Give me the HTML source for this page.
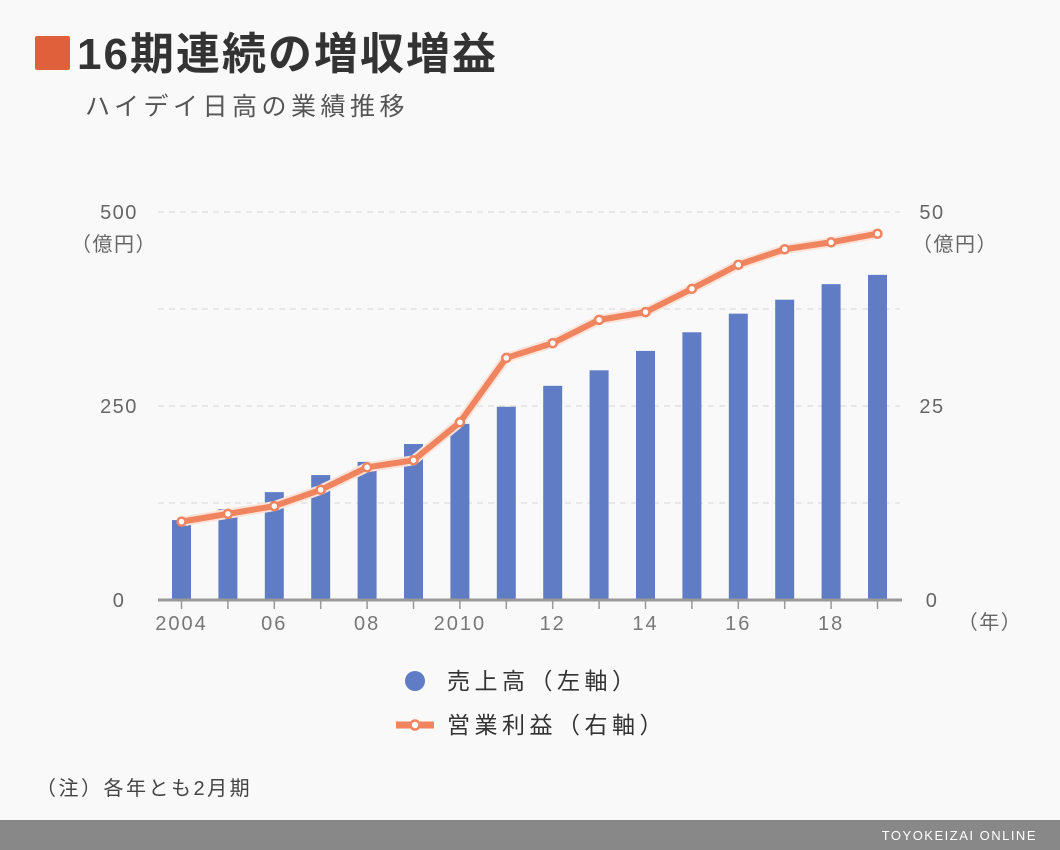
<!DOCTYPE html>
<html><head><meta charset="utf-8">
<style>
body{margin:0;width:1060px;height:850px;background:#f9f9f9;overflow:hidden;font-family:"Liberation Sans","Noto Sans CJK JP",sans-serif;}
</style></head>
<body>
<svg id="c" width="1060" height="850" xmlns="http://www.w3.org/2000/svg" style="position:absolute;left:0;top:0;font-family:'Liberation Sans','Noto Sans CJK JP',sans-serif">
<rect x="35" y="36" width="35" height="34" rx="2" fill="#e0603c"/>
<text x="77" y="69" font-size="44" font-weight="bold" letter-spacing="2" fill="#333">16期連続の増収増益</text>
<text x="85" y="115" font-size="25" letter-spacing="4.5" fill="#555">ハイデイ日高の業績推移</text>
<g id="grid"></g>
<g id="bars"></g>
<g id="line"></g>
<g id="axes"></g>
<text x="114" y="251" font-size="20" letter-spacing="1.5" fill="#666" text-anchor="middle">（億円）</text>
<text x="955" y="251" font-size="20" letter-spacing="1.5" fill="#666" text-anchor="middle">（億円）</text>
<text x="990" y="629" font-size="20" letter-spacing="1.5" fill="#666" text-anchor="middle">（年）</text>
<g>
<circle cx="415" cy="681" r="10" fill="#5f7cc4"/>
<text x="447" y="689" font-size="23" letter-spacing="4.5" fill="#333">売上高（左軸）</text>
</g>
<g>
<line x1="396" y1="725" x2="434" y2="725" stroke="#f0845f" stroke-width="7"/>
<circle cx="415" cy="725" r="4.5" fill="#fff" stroke="#f0845f" stroke-width="2.5"/>
<text x="447" y="733" font-size="23" letter-spacing="4.5" fill="#333">営業利益（右軸）</text>
</g>
<text x="36" y="795" font-size="20" letter-spacing="2.5" fill="#444">（注）各年とも2月期</text>
<rect x="0" y="820" width="1060" height="30" fill="#888"/>
<text x="1037" y="840" font-size="13" fill="#fff" text-anchor="end" letter-spacing="1.5">TOYOKEIZAI ONLINE</text>
</svg>
<script>
const years=[2004,2005,2006,2007,2008,2009,2010,2011,2012,2013,2014,2015,2016,2017,2018,2019];
const sales=[103,117,139,161,178,201,227,249,276,296,321,345,369,387,407,419];
const profit=[10.1,11.1,12.1,14.2,17.1,18.0,22.9,31.2,33.1,36.1,37.1,40.1,43.2,45.2,46.1,47.2];
const leftTicks=[0,250,500];
const rightTicks=[0,25,50];
const xLabels={2004:"2004",2006:"06",2008:"08",2010:"2010",2012:"12",2014:"14",2016:"16",2018:"18"};
const NS="http://www.w3.org/2000/svg";
const y0=600,yTop=212;
const yL=v=>y0-(v/500)*(y0-yTop);
const yR=v=>y0-(v/50)*(y0-yTop);
const x=i=>181.5+(i)*(877.5-181.5)/(years.length-1);
function mk(tag,attrs,parent){const e=document.createElementNS(NS,tag);for(const k in attrs)e.setAttribute(k,attrs[k]);document.getElementById(parent).appendChild(e);return e;}
for(let k=1;k<=4;k++){const v=k*125;
 const g=mk('line',{x1:158,x2:900,y1:yL(v),y2:yL(v),stroke:'#ddd','stroke-width':1.2,'stroke-dasharray':'6,5'},'grid');
 
 }
leftTicks.forEach(v=>{const t=mk('text',{x:119,y:yL(v)+7,'font-size':20,'letter-spacing':1.5,fill:'#666','text-anchor':'middle'},'axes');t.textContent=v;
 
 });
rightTicks.forEach(v=>{const t=mk('text',{x:932,y:yR(v)+7,'font-size':20,'letter-spacing':1.5,fill:'#666','text-anchor':'middle'},'axes');t.textContent=v;
 
 });
sales.forEach((v,i)=>{const b=mk('rect',{x:x(i)-9.5,y:yL(v),width:19,height:y0-yL(v),fill:'#5f7cc4'},'bars');
 
 });
const ax=mk('line',{x1:158,x2:902,y1:600,y2:600,stroke:'#999','stroke-width':3},'axes');


years.forEach((yr,i)=>{mk('line',{x1:x(i),x2:x(i),y1:601,y2:609,stroke:'#999','stroke-width':1.5},'axes');
 if(xLabels[yr]){const t=mk('text',{x:x(i),y:630,'font-size':20,'letter-spacing':2,fill:'#777','text-anchor':'middle'},'axes');t.textContent=xLabels[yr];
 
 }});
const pts=profit.map((v,i)=>x(i)+','+yR(v)).join(' ');
mk('polyline',{points:pts,fill:'none',stroke:'#fbe3da','stroke-width':10,'stroke-linejoin':'round'},'line');
const pl=mk('polyline',{points:pts,fill:'none',stroke:'#f0845f','stroke-width':6,'stroke-linejoin':'round'},'line');


profit.forEach((v,i)=>{const c=mk('circle',{cx:x(i),cy:yR(v),r:4,fill:'#fff',stroke:'#f0845f','stroke-width':2.5},'line');
 
 });
</script>
</body></html>
